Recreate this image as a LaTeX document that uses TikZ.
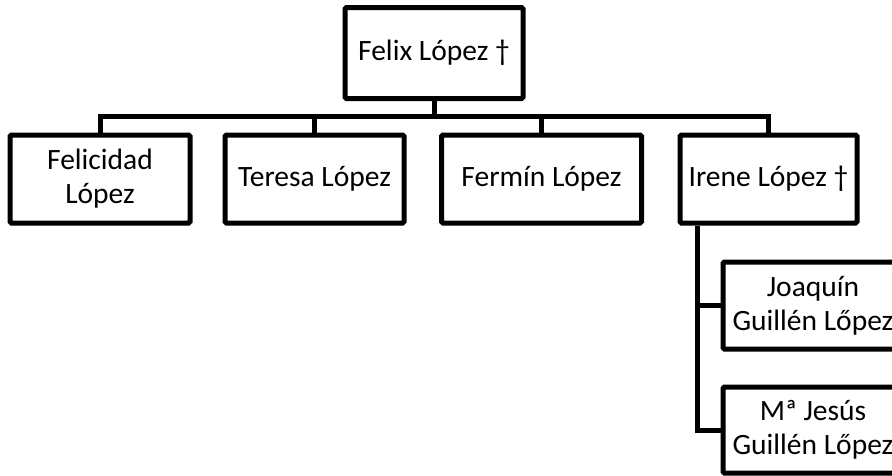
\documentclass[tikz,border=0pt]{standalone}
\usepackage{fontspec}
\setmainfont{Carlito}
\begin{document}
\begin{tikzpicture}[x=1pt,y=-1pt,
  person/.style={draw=black, line width=5pt, rounded corners=1.5pt, fill=white,
    inner sep=0pt, minimum height=88pt, align=center,
    font=\fontsize{29.5}{34}\selectfont},
  link/.style={draw=black, line width=5pt}]
\useasboundingbox (0,0) rectangle (892,475);
\node[person, minimum width=178pt, minimum height=91pt] (felix) at (434,53) {Felix López †};
\node[person, minimum width=180pt] (felicidad) at (100,179) {Felicidad\\López};
\node[person, minimum width=179pt] (teresa) at (314.5,179) {Teresa López};
\node[person, minimum width=200pt] (fermin) at (541.5,179) {Fermín López};
\node[person, minimum width=177pt] (irene) at (768.5,179) {Irene López †};
\node[person, minimum width=180pt, minimum height=87pt] (joaquin) at (813,305.5) {Joaquín\\Guillén Lőpez};
\node[person, minimum width=180pt, minimum height=86pt] (jesus) at (813,430) {Mª Jesús\\Guillén Lőpez};
\coordinate (bar) at (434,116);
\coordinate (spine) at (697,0);
\path[link] (felix.south) -- (bar);
\path[link] (felicidad.north) |- (bar) -| (irene.north);
\path[link] (teresa.north) -- (teresa.north |- bar);
\path[link] (fermin.north) -- (fermin.north |- bar);
\path[link] (spine |- irene.south) |- (joaquin.west);
\path[link] (spine |- irene.south) |- (jesus.west);
\end{tikzpicture}
\end{document}
